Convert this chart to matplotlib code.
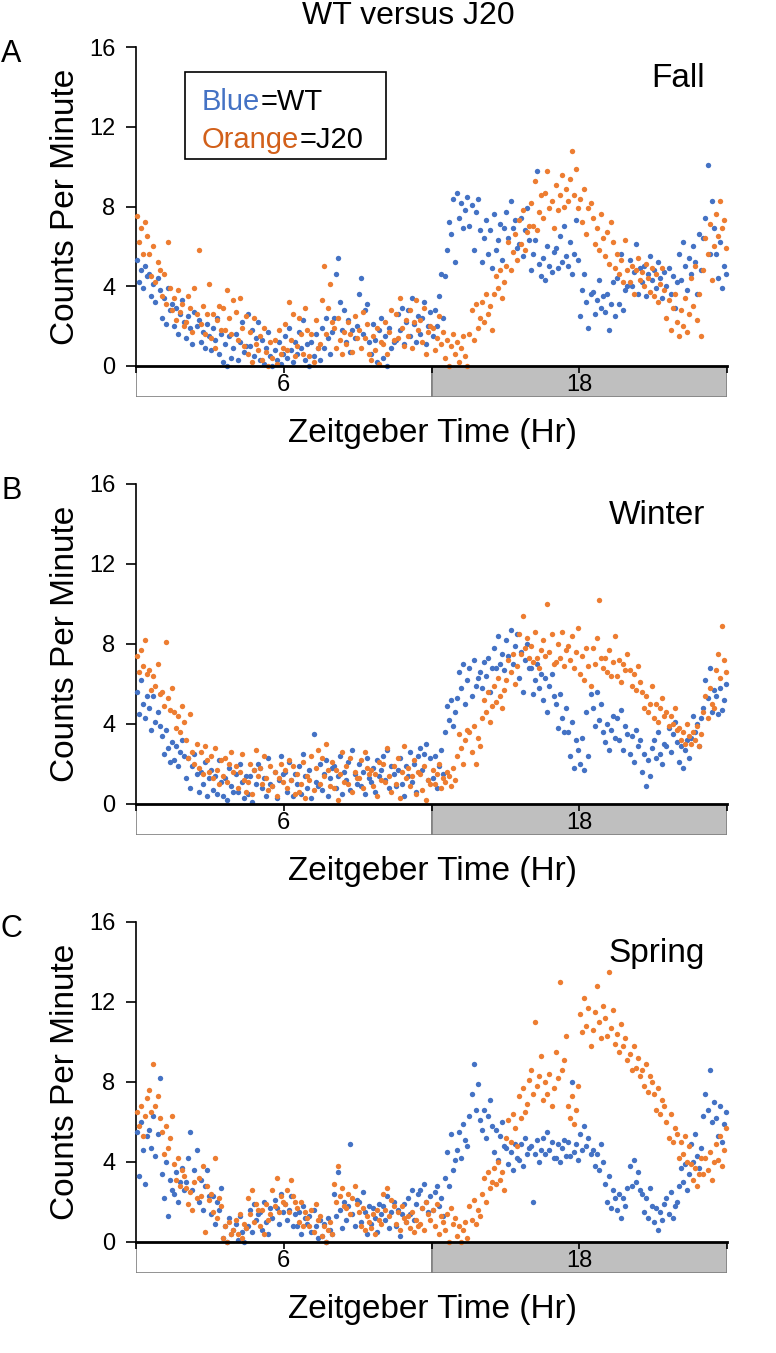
import numpy as np
import matplotlib
matplotlib.use("Agg")
import matplotlib.pyplot as plt
from matplotlib.patches import Rectangle

plt.rcParams['font.family'] = ['Liberation Sans', 'DejaVu Sans']

# ---------------- data (counts per minute, 5-min samples, ZT 0-24) ----------------
fall_wt = [
    5.3, 4.2, 4.8, 3.9, 5.0, 4.5,  4.6, 3.5, 4.1, 3.2, 4.4, 3.8,
    2.4, 3.4, 2.1, 3.9, 2.8, 3.1,  2.0, 2.9, 1.6, 2.6, 3.3, 2.2,
    1.4, 2.5, 1.9, 1.1, 2.7, 2.0,  2.3, 1.2, 1.7, 0.9, 2.1, 1.5,
    0.8, 1.9, 1.3, 2.4, 0.6, 1.6,  0.2, 1.1, 0.0, 1.5, 0.4, 0.9,
    1.6, 0.3, 1.2, 2.2, 0.7, 1.0,  2.6, 1.0, 1.8, 0.5, 1.4, 2.2,
    0.3, 1.3, 0.1, 0.9, 1.7, 0.5,  0.0, 0.8, 0.3, 1.2, 0.1, 0.6,
    1.5, 0.4, 1.9, 0.8, 0.2, 1.2,  0.6, 1.7, 0.9, 2.3, 0.3, 1.1,
    0.0, 1.2, 0.5, 1.6, 0.9, 0.3,  1.9, 0.9, 2.4, 1.4, 0.6, 1.7,
    2.4, 4.6, 5.4, 3.2, 1.8, 2.8,  1.2, 2.3, 0.7, 1.8, 1.4, 2.0,
    3.6, 4.4, 1.6, 2.8, 3.1, 1.2,  0.6, 2.1, 1.3, 0.2, 1.8, 2.4,
    0.4, 1.5, 0.0, 1.9, 0.9, 1.2,  1.3, 2.6, 1.8, 2.9, 1.1, 2.2,
    2.8, 1.5, 3.4, 2.1, 1.2, 2.5,  1.6, 2.4, 3.2, 1.1, 2.0, 2.7,
    1.5, 2.8, 2.0, 3.5, 4.6, 2.4,  4.5, 5.8, 7.2, 6.6, 8.4, 5.2,
    8.7, 7.4, 8.2, 6.9, 7.8, 8.5,  7.0, 8.1, 5.8, 7.7, 8.4, 6.8,
    5.2, 6.4, 7.3, 5.6, 6.8, 4.9,  7.6, 5.8, 6.3, 7.1, 5.3, 6.9,
    7.7, 6.4, 8.3, 6.9, 7.3, 5.9,  6.1, 7.4, 5.5, 6.8, 7.9, 6.3,
    4.8, 5.6, 6.3, 9.8, 5.1, 4.5,  5.4, 4.3, 6.0, 5.0, 4.7, 5.7,
    5.9, 4.9, 6.5, 5.2, 7.0, 5.5,  5.0, 6.2, 4.6, 5.6, 7.3, 5.3,
    2.5, 3.8, 4.6, 3.2, 1.9, 3.6,  3.7, 2.6, 3.3, 4.3, 2.9, 3.5,
    2.7, 3.6, 1.8, 3.1, 4.2, 2.5,  4.4, 3.1, 5.6, 2.8, 3.8, 4.0,
    5.3, 4.0, 4.7, 6.1, 3.6, 4.9,  4.2, 5.0, 3.5, 4.6, 5.5, 4.3,
    4.8, 3.9, 5.2, 4.4, 3.4, 4.7,  4.0, 4.9, 3.6, 4.5, 2.9, 4.2,
    5.6, 4.3, 6.2, 5.0, 3.8, 5.4,  4.6, 6.0, 5.2, 3.6, 6.6, 4.8,
    6.4, 7.4, 10.1, 5.6, 8.3, 6.9, 5.6, 4.4, 6.2, 3.9, 5.0, 4.6,
]
fall_j20 = [
    7.5, 6.2, 6.9, 5.6, 7.2, 6.5,  5.6, 4.5, 6.0, 4.2, 5.2, 4.8,
    3.5, 4.6, 3.1, 6.2, 3.9, 2.8,  3.4, 2.3, 3.8, 2.7, 3.1, 2.0,
    2.2, 3.5, 2.9, 1.7, 3.9, 2.6,  5.8, 2.1, 3.0, 1.6, 2.6, 4.1,
    1.4, 2.6, 0.9, 2.3, 3.0, 1.8,  2.9, 1.8, 3.8, 2.4, 1.6, 3.3,
    2.7, 1.3, 3.4, 1.9, 1.0, 2.5,  0.6, 1.7, 0.2, 2.4, 1.1, 0.8,
    1.5, 0.3, 1.9, 0.7, 0.0, 1.2,  0.4, 1.3, 0.1, 1.8, 0.6, 0.9,
    2.1, 0.8, 3.2, 1.3, 2.6, 0.5,  1.0, 2.4, 1.6, 0.6, 2.9, 1.8,
    0.5, 1.6, 0.2, 2.3, 0.9, 1.1,  3.3, 5.0, 1.6, 2.9, 4.1, 2.2,
    1.9, 0.9, 2.4, 1.3, 0.6, 1.7,  1.1, 2.2, 1.6, 0.7, 2.5, 1.4,
    1.8, 0.9, 2.7, 1.4, 2.1, 0.6,  0.3, 1.5, 0.8, 1.9, 0.1, 1.2,
    1.1, 2.2, 0.6, 1.7, 2.8, 1.3,  2.6, 1.4, 3.4, 1.9, 1.0, 2.3,
    1.5, 2.8, 0.9, 2.2, 3.3, 1.8,  2.3, 1.2, 2.9, 0.6, 1.7, 2.0,
    1.9, 0.8, 1.4, 2.5, 1.1, 1.7,  0.4, 1.3, 0.0, 1.0, 1.6, 0.6,
    1.2, 0.2, 0.9, 1.5, 0.5, 0.0,  1.6, 2.8, 1.3, 3.1, 1.9, 2.4,
    3.2, 2.2, 3.6, 2.6, 3.0, 1.8,  3.6, 4.5, 3.9, 4.8, 3.4, 4.2,
    5.0, 6.2, 4.8, 5.7, 6.6, 5.3,  7.3, 6.1, 7.8, 5.8, 6.7, 7.0,
    8.2, 7.0, 9.3, 6.8, 7.7, 8.6,  7.4, 8.7, 9.8, 7.9, 8.3, 6.9,
    9.1, 7.8, 8.6, 9.6, 8.0, 8.9,  8.3, 9.4, 10.8, 8.6, 9.9, 7.9,
    8.4, 7.2, 8.9, 6.6, 7.9, 8.2,  7.4, 6.1, 6.9, 5.8, 7.6, 6.4,
    5.5, 6.7, 5.1, 7.2, 6.2, 4.9,  5.6, 4.6, 5.3, 4.2, 6.3, 4.8,
    4.2, 5.0, 3.6, 4.8, 5.4, 4.3,  4.7, 4.0, 5.1, 4.4, 3.7, 4.9,
    3.5, 4.6, 3.2, 4.1, 4.9, 3.8,  2.4, 3.3, 1.8, 2.9, 3.6, 2.2,
    1.5, 2.8, 2.0, 3.4, 1.7, 2.6,  4.4, 3.0, 5.0, 2.3, 3.6, 1.5,
    4.8, 6.4, 5.6, 7.1, 4.3, 6.0,  7.6, 6.5, 8.3, 6.9, 7.3, 5.9,
]
winter_wt = [
    5.6, 4.5, 6.2, 5.0, 4.3, 5.4,  4.8, 3.7, 5.4, 4.1, 4.6, 3.9,
    3.4, 2.5, 3.7, 2.8, 2.1, 3.1,  2.2, 2.9, 1.9, 2.6, 3.2, 2.4,
    1.3, 2.3, 0.8, 1.9, 2.5, 1.5,  0.6, 1.6, 1.0, 2.1, 0.4, 1.3,
    1.7, 0.7, 1.4, 0.5, 2.2, 1.1,  0.4, 1.3, 0.2, 1.8, 0.9, 0.6,
    1.5, 0.6, 2.0, 1.1, 0.3, 1.4,  0.5, 1.4, 0.1, 1.7, 1.0, 2.0,
    1.8, 0.8, 1.3, 0.4, 2.3, 1.0,  0.9, 1.6, 0.3, 1.2, 2.4, 1.5,
    1.6, 0.6, 2.1, 1.2, 0.4, 1.5,  1.0, 1.9, 0.5, 2.5, 1.4, 0.8,
    1.7, 0.3, 3.5, 1.1, 0.9, 2.0,  0.7, 1.5, 2.2, 0.4, 1.3, 1.8,
    1.9, 0.8, 1.4, 2.4, 0.5, 1.6,  1.2, 2.1, 0.7, 2.7, 1.5, 1.0,
    2.0, 0.9, 1.6, 0.5, 2.3, 1.3,  1.1, 1.8, 0.6, 2.2, 1.4, 1.7,
    2.4, 1.2, 2.7, 0.8, 1.9, 1.5,  0.9, 1.7, 2.3, 1.0, 0.4, 1.9,
    1.4, 2.6, 1.1, 2.0, 0.6, 2.4,  2.8, 1.7, 2.5, 3.0, 1.2, 2.3,
    1.3, 2.4, 0.8, 1.9, 2.7, 1.5,  3.6, 4.9, 4.2, 5.2, 3.9, 4.6,
    5.3, 6.6, 5.8, 7.0, 5.0, 6.2,  6.8, 5.4, 7.2, 5.9, 6.3, 6.6,
    5.8, 7.1, 6.4, 7.3, 5.6, 6.8,  7.8, 6.8, 8.4, 7.0, 7.5, 6.7,
    8.2, 7.4, 8.7, 7.0, 7.9, 8.5,  6.3, 7.6, 5.6, 7.2, 8.0, 6.8,
    6.8, 5.5, 6.2, 7.0, 5.8, 6.5,  5.2, 6.3, 4.6, 5.9, 6.5, 5.4,
    5.0, 3.8, 5.5, 4.3, 3.6, 4.8,  3.6, 2.4, 4.1, 1.8, 3.2, 2.7,
    2.0, 3.3, 1.7, 4.6, 2.4, 5.5,  4.8, 3.9, 5.6, 4.2, 5.0, 3.6,
    3.1, 4.0, 2.7, 3.7, 4.4, 3.3,  4.3, 3.2, 4.7, 2.7, 3.9, 3.5,
    2.5, 3.4, 2.1, 3.7, 2.9, 3.2,  1.6, 2.5, 0.9, 2.2, 1.4, 2.8,
    3.2, 2.3, 3.6, 2.5, 2.0, 3.0,  2.9, 3.8, 2.6, 3.5, 4.1, 3.1,
    2.1, 2.9, 1.8, 2.7, 3.2, 2.3,  3.3, 4.4, 3.6, 4.0, 2.9, 4.3,
    4.8, 6.2, 5.3, 6.8, 4.6, 5.7,  5.4, 4.5, 5.8, 4.7, 5.2, 6.0,
]
winter_j20 = [
    7.4, 6.6, 7.7, 6.9, 8.2, 6.5,  6.7, 5.7, 6.4, 5.9, 7.0, 5.5,
    5.6, 4.9, 8.1, 5.3, 4.7, 5.8,  4.6, 3.8, 4.4, 3.6, 4.9, 4.1,
    3.2, 2.3, 4.5, 2.6, 2.0, 3.0,  1.8, 2.6, 1.5, 2.9, 2.2, 1.6,
    2.4, 1.3, 2.8, 1.7, 1.0, 2.2,  1.4, 2.3, 1.1, 2.0, 2.6, 1.6,
    1.9, 0.8, 1.6, 2.5, 1.2, 0.6,  1.1, 2.0, 0.5, 1.7, 2.7, 1.4,
    1.8, 1.0, 2.4, 1.3, 0.7, 1.9,  0.9, 1.6, 0.4, 1.3, 2.0, 1.1,
    1.7, 0.8, 2.2, 1.2, 1.9, 0.5,  1.5, 0.6, 1.0, 2.1, 0.3, 1.4,
    1.2, 2.4, 0.7, 1.8, 2.7, 1.0,  2.3, 1.4, 3.0, 1.7, 0.9, 2.1,
    0.8, 1.7, 0.2, 1.5, 2.6, 1.1,  1.9, 1.0, 2.3, 0.6, 1.6, 1.3,
    1.3, 2.2, 0.8, 2.6, 1.8, 1.5,  1.7, 0.9, 1.5, 0.4, 2.1, 1.2,
    2.0, 1.1, 2.8, 1.4, 0.6, 1.9,  1.0, 2.3, 0.3, 1.6, 2.9, 1.3,
    1.8, 0.9, 1.4, 2.2, 0.5, 1.6,  1.5, 0.7, 1.9, 0.2, 1.2, 1.0,
    1.7, 1.0, 1.5, 2.0, 0.8, 1.3,  1.1, 1.6, 1.4, 0.9, 1.8, 1.2,
    2.4, 3.5, 2.8, 2.0, 3.2, 3.7,  3.6, 2.6, 3.9, 2.0, 3.3, 2.9,
    4.3, 5.2, 4.6, 5.6, 4.1, 4.9,  5.9, 5.1, 6.3, 5.4, 4.8, 5.7,
    6.2, 7.2, 6.6, 7.5, 6.0, 6.9,  8.5, 7.5, 9.4, 7.8, 8.3, 7.3,
    7.9, 7.1, 8.6, 7.3, 6.8, 7.7,  8.2, 7.4, 10.0, 7.6, 8.5, 7.0,
    7.1, 8.0, 7.3, 8.6, 6.9, 7.7,  7.9, 7.2, 8.4, 6.8, 7.6, 8.8,
    6.5, 7.4, 6.2, 7.8, 6.9, 5.9,  7.8, 7.0, 8.3, 10.2, 7.3, 6.8,
    7.3, 6.6, 7.7, 6.4, 7.1, 8.4,  6.4, 7.2, 6.1, 7.0, 6.7, 7.5,
    6.7, 5.9, 6.5, 5.7, 6.9, 6.1,  5.6, 4.8, 5.4, 4.6, 5.0, 5.9,
    4.3, 5.0, 4.1, 4.8, 5.3, 4.4,  4.6, 3.9, 4.4, 4.0, 4.8, 3.7,
    3.8, 3.2, 3.6, 3.0, 4.0, 3.4,  3.0, 3.6, 3.2, 3.9, 2.9, 3.5,
    4.6, 5.4, 4.3, 5.8, 5.0, 4.8,  6.7, 7.5, 6.3, 8.9, 7.2, 6.6,
]
spring_wt = [
    5.5, 3.3, 6.0, 4.6, 2.9, 5.3,  5.6, 4.7, 6.3, 4.3, 5.4, 8.2,
    3.4, 2.2, 4.0, 1.3, 3.1, 2.6,  2.4, 3.5, 2.0, 3.0, 3.7, 2.6,
    3.0, 4.2, 5.5, 2.6, 3.6, 4.6,  2.0, 3.1, 1.6, 2.8, 3.6, 2.3,
    1.4, 2.3, 0.9, 2.0, 1.6, 2.7,  0.2, 0.8, 0.0, 1.2, 0.4, 0.6,
    0.9, 0.1, 1.3, 0.5, 0.0, 0.7,  0.8, 1.6, 0.5, 1.9, 1.1, 1.4,
    1.5, 0.6, 2.0, 1.0, 0.4, 1.7,  1.2, 2.1, 1.7, 0.9, 2.4, 1.5,
    1.9, 1.1, 1.6, 2.3, 0.8, 1.4,  0.8, 1.5, 0.4, 1.8, 1.2, 0.9,
    1.3, 0.5, 1.6, 0.8, 0.2, 1.1,  0.3, 0.9, 0.0, 1.2, 0.6, 0.4,
    2.4, 1.3, 3.5, 1.6, 0.7, 2.0,  1.1, 1.8, 4.9, 1.4, 0.8, 2.1,
    2.0, 1.0, 2.5, 1.5, 0.4, 1.8,  0.9, 1.7, 1.2, 0.5, 1.9, 1.4,
    1.8, 1.1, 2.3, 0.7, 1.5, 2.0,  0.8, 1.6, 0.3, 1.4, 1.9, 1.0,
    2.2, 1.4, 2.6, 1.1, 1.9, 2.4,  2.6, 1.7, 2.9, 2.0, 1.5, 2.3,
    1.6, 2.5, 2.8, 1.8, 2.2, 1.3,  3.2, 4.5, 2.8, 5.4, 3.6, 4.1,
    4.6, 5.5, 4.2, 5.9, 5.1, 4.8,  6.3, 7.4, 8.9, 6.6, 7.9, 6.1,
    5.6, 6.6, 5.2, 6.3, 7.1, 5.8,  4.5, 5.6, 4.1, 5.3, 6.0, 4.8,
    4.7, 3.9, 4.5, 3.6, 4.9, 4.2,  4.1, 4.9, 3.8, 5.2, 4.4, 4.7,
    4.8, 2.0, 4.4, 5.1, 4.0, 4.6,  5.2, 4.4, 5.5, 4.6, 5.0, 4.2,
    4.2, 4.9, 4.0, 4.7, 5.1, 4.3,  5.0, 4.3, 8.0, 4.5, 4.9, 4.1,
    5.4, 4.6, 5.8, 4.8, 5.2, 4.4,  4.6, 3.8, 4.4, 3.6, 4.9, 4.0,
    2.9, 2.0, 3.3, 1.7, 2.6, 2.2,  1.6, 2.4, 1.2, 2.2, 1.8, 2.7,
    3.8, 2.8, 4.1, 3.0, 3.5, 2.6,  2.4, 1.5, 2.2, 1.2, 2.7, 1.8,
    1.0, 1.7, 0.6, 1.5, 1.1, 1.9,  2.2, 1.4, 2.5, 1.2, 1.8, 2.0,
    2.8, 3.7, 3.0, 3.9, 2.6, 3.4,  4.9, 4.0, 5.4, 4.3, 3.7, 4.7,
    6.3, 7.4, 6.6, 8.6, 6.0, 7.0,  6.2, 5.3, 6.8, 5.0, 5.9, 6.5,
]
spring_j20 = [
    6.5, 5.8, 6.8, 5.3, 6.3, 7.2,  7.6, 6.5, 8.9, 6.8, 7.3, 6.2,
    5.5, 4.4, 5.8, 4.7, 5.2, 6.3,  3.9, 3.1, 4.2, 2.8, 3.6, 3.3,
    2.7, 1.9, 2.5, 1.6, 3.0, 2.2,  3.2, 2.3, 3.8, 0.5, 2.8, 2.1,
    2.4, 1.5, 4.2, 1.2, 2.2, 1.8,  0.2, 0.8, 0.0, 1.0, 0.4, 0.6,
    1.1, 0.4, 1.4, 0.2, 0.9, 0.7,  2.2, 1.4, 2.6, 1.0, 1.9, 1.6,
    0.8, 1.6, 0.4, 1.9, 1.1, 1.4,  2.6, 1.8, 3.2, 1.5, 2.3, 2.0,
    1.9, 2.6, 1.5, 3.1, 2.3, 2.0,  1.7, 1.0, 2.0, 0.8, 1.5, 1.2,
    0.8, 1.6, 0.5, 1.9, 1.1, 1.3,  0.3, 0.8, 0.0, 0.6, 1.0, 0.4,
    2.9, 2.0, 3.8, 2.3, 2.7, 1.8,  1.7, 2.4, 1.4, 2.2, 2.8, 1.9,
    1.5, 0.8, 1.7, 0.6, 1.3, 1.0,  0.7, 1.4, 0.4, 1.6, 1.1, 0.9,
    2.4, 1.6, 2.7, 1.3, 2.1, 1.8,  0.9, 1.5, 0.6, 1.8, 1.2, 1.0,
    1.3, 0.7, 1.5, 0.5, 1.1, 0.8,  0.9, 1.7, 0.6, 2.0, 1.4, 1.1,
    1.6, 0.8, 1.9, 0.4, 1.3, 1.0,  0.6, 1.4, 0.0, 1.7, 0.9, 1.2,
    0.3, 0.8, 0.0, 0.6, 1.0, 0.2,  1.8, 1.1, 2.1, 0.9, 1.6, 1.3,
    2.4, 3.2, 2.0, 3.5, 2.7, 3.0,  3.7, 2.9, 4.0, 3.1, 3.5, 2.6,
    5.2, 6.1, 5.0, 6.4, 5.7, 4.8,  7.3, 6.2, 7.7, 6.5, 6.9, 8.1,
    8.6, 7.4, 11.0, 7.8, 8.3, 9.3, 7.1, 8.0, 7.4, 8.4, 6.8, 7.7,
    9.5, 8.2, 13.0, 8.6, 9.1, 10.3, 6.8, 6.2, 7.3, 5.9, 6.6, 7.8,
    11.4, 10.5, 12.2, 10.8, 11.7, 9.8, 10.6, 11.5, 12.8, 11.0, 10.2, 11.8,
    11.2, 10.3, 13.5, 10.7, 11.6, 9.9, 10.4, 9.5, 10.9, 9.8, 10.2, 9.1,
    9.4, 8.6, 9.8, 8.7, 9.2, 8.3,  8.6, 7.8, 8.9, 7.5, 8.3, 8.0,
    7.4, 6.6, 7.7, 6.4, 7.1, 6.8,  6.0, 5.2, 6.4, 5.0, 5.7, 5.4,
    4.2, 5.0, 4.4, 5.3, 4.0, 4.8,  3.9, 3.1, 3.7, 2.8, 3.4, 4.2,
    3.4, 4.2, 3.6, 4.5, 3.1, 4.0,  4.9, 4.1, 5.3, 3.8, 4.6, 5.7,
]

panels = [
    ("A", "Fall", fall_wt, fall_j20),
    ("B", "Winter", winter_wt, winter_j20),
    ("C", "Spring", spring_wt, spring_j20),
]
y_ticks = [0, 4, 8, 12, 16]
bar_labels = {6: "6", 18: "18"}
title = "WT versus J20"
xlabel = "Zeitgeber Time (Hr)"
ylabel = "Counts Per Minute"

BLUE = "#4472C4"
ORANGE = "#ED7D31"
GRAY = "#BFBFBF"

W, H = 776, 1353
fig = plt.figure(figsize=(W / 100, H / 100), dpi=100)

def fx(px):
    return px / W

def fy(py):
    return 1 - py / H

x_left, x_right = 136, 727
axes_px = [(47, 366), (484, 804), (922, 1242)]  # (top, bottom) pixel rows
bar_h = 31

for (letter, season, wt, j20), (top, bot) in zip(panels, axes_px):
    n = len(wt)
    t = (np.arange(n) + 0.5) * 24.0 / n

    ax_bar = fig.add_axes([fx(x_left), fy(bot + bar_h), fx(x_right) - fx(x_left), bar_h / H])
    ax_bar.set_zorder(0)
    ax_bar.set_xlim(0, 24)
    ax_bar.set_ylim(0, 1)
    ax_bar.axis("off")
    ax_bar.add_patch(Rectangle((0, 0), 12, 1, facecolor="white", edgecolor="#808080", lw=1.2))
    ax_bar.add_patch(Rectangle((12, 0), 12, 1, facecolor=GRAY, edgecolor="#808080", lw=1.2))
    for xv, lab in bar_labels.items():
        ax_bar.text(xv, 0.40, lab, ha="center", va="center", fontsize=17)

    ax = fig.add_axes([fx(x_left), fy(bot), fx(x_right) - fx(x_left), (bot - top) / H])
    ax.set_zorder(2)
    ax.patch.set_alpha(0)
    ax.scatter(t, wt, s=15, color=BLUE, linewidths=0, zorder=3, clip_on=False)
    ax.scatter(t, j20, s=15, color=ORANGE, linewidths=0, zorder=4, clip_on=False)
    ax.set_xlim(0, 24)
    ax.set_ylim(0, 16)
    ax.set_yticks(y_ticks)
    ax.set_xticks([0, 6, 12, 18, 24])
    ax.tick_params(axis="x", direction="out", length=5, width=1.2, labelbottom=False, color="black")
    ax.tick_params(axis="y", direction="out", length=7, width=1.2, pad=8, labelsize=17)
    for s in ("top", "right"):
        ax.spines[s].set_visible(False)
    ax.spines["left"].set_linewidth(1.2)
    ax.spines["bottom"].set_linewidth(2.0)
    ax.spines["bottom"].set_zorder(5)

    # labels
    fig.text(fx(66), fy((top + bot) / 2), ylabel, rotation=90, ha="center", va="center", fontsize=24)
    fig.text(fx(433), fy(bot + 76), xlabel, ha="center", va="baseline", fontsize=24)
    fig.text(fx(1), fy(top + 15), letter, ha="left", va="baseline", fontsize=22)
    fig.text(fx(705), fy(top + 40), season, ha="right", va="baseline", fontsize=24)

fig.text(fx(408), fy(24), title, ha="center", va="baseline", fontsize=23)

# legend box in panel A
fig.patches.append(Rectangle((fx(185), fy(159)), fx(386) - fx(185), (159 - 72) / H,
                             transform=fig.transFigure, facecolor="white",
                             edgecolor="black", lw=1.2, zorder=1))
t1 = fig.text(fx(202), fy(110), "Blue", color=BLUE, ha="left", va="baseline", fontsize=21, zorder=6)
plt.annotate("=WT", xy=(1, 0), xycoords=t1, ha="left", va="bottom", fontsize=21,
             color="black", annotation_clip=False)
t2 = fig.text(fx(202), fy(148), "Orange", color="#D2601A", ha="left", va="baseline", fontsize=21, zorder=6)
plt.annotate("=J20", xy=(1, 0), xycoords=t2, ha="left", va="bottom", fontsize=21,
             color="black", annotation_clip=False)

fig.savefig("out.png", dpi=100)
